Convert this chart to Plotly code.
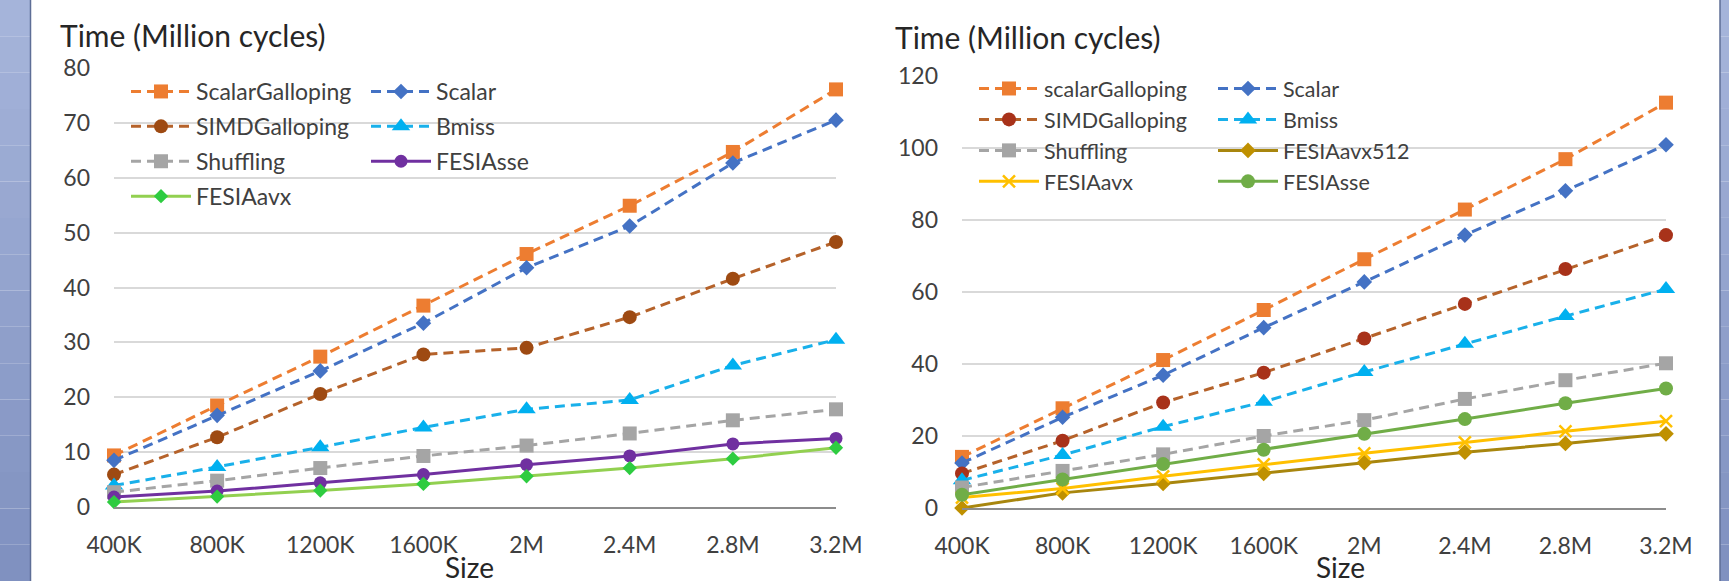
import plotly.graph_objects as go

# ---------------- data ----------------
sizes = ["400K", "800K", "1200K", "1600K", "2M", "2.4M", "2.8M", "3.2M"]

# left chart
scalar_galloping_L = [9.4, 18.5, 27.4, 36.7, 46.1, 54.9, 64.7, 76.1]
scalar_L = [8.5, 16.7, 24.8, 33.5, 43.6, 51.2, 62.7, 70.5]
simd_galloping_L = [5.9, 12.7, 20.6, 27.8, 29.0, 34.6, 41.6, 48.3]
bmiss_L = [3.9, 7.3, 10.9, 14.5, 17.8, 19.5, 25.8, 30.5]
shuffling_L = [2.7, 4.8, 7.1, 9.3, 11.2, 13.4, 15.8, 17.8]
fesia_sse_L = [1.8, 2.9, 4.4, 5.9, 7.7, 9.3, 11.5, 12.5]
fesia_avx_L = [0.9, 1.9, 3.0, 4.2, 5.6, 7.1, 8.8, 10.8]

# right chart
scalar_galloping_R = [14.2, 27.7, 41.1, 55.0, 69.1, 82.9, 96.9, 112.6]
scalar_R = [12.5, 25.2, 36.9, 50.1, 62.8, 75.8, 88.1, 100.9]
simd_galloping_R = [9.6, 18.7, 29.3, 37.6, 47.1, 56.7, 66.4, 75.8]
bmiss_R = [7.7, 14.7, 22.6, 29.5, 37.8, 45.6, 53.3, 60.8]
shuffling_R = [5.7, 10.3, 14.9, 20.0, 24.4, 30.3, 35.5, 40.2]
fesia_avx512_R = [0.0, 4.2, 6.8, 9.6, 12.6, 15.5, 17.9, 20.6]
fesia_avx_R = [2.9, 5.4, 8.8, 12.1, 15.2, 18.2, 21.3, 24.1]
fesia_sse_R = [3.7, 7.9, 12.2, 16.2, 20.6, 24.7, 29.1, 33.2]

y_title = "Time (Million cycles)"
x_title = "Size"

# ---------------- layout helpers ----------------
W, H = 1729, 581
FONT = "Lato, Open Sans, sans-serif"
TXT = "#404040"
DASH = "10px,6px"


def fx(x):
    return x / W


def fy(y):
    return (H - y) / H


fig = go.Figure()


def add(name, y, color, dash, symbol, msize, xa, ya, legend, mcolor=None, lw=3, mline=0):
    mc = mcolor or color
    fig.add_trace(go.Scatter(
        x=sizes, y=y, name=name, mode="lines+markers",
        line=dict(color=color, width=lw, dash=dash),
        marker=dict(symbol=symbol, size=msize, color=mc,
                    line=dict(width=mline, color=mc)),
        xaxis=xa, yaxis=ya, legend=legend, legendgroup=name + xa,
        cliponaxis=False, hoverinfo="x+y+name"))


# left chart traces
add("ScalarGalloping", scalar_galloping_L, "#ED7D31", DASH, "square", 14, "x", "y", "legend")
add("Scalar", scalar_L, "#4472C4", DASH, "diamond", 12, "x", "y", "legend2")
add("SIMDGalloping", simd_galloping_L, "#B5622A", DASH, "circle", 14, "x", "y", "legend", mcolor="#9E4A12")
add("Bmiss", bmiss_L, "#19B0EA", DASH, "triangle-up", 16, "x", "y", "legend2", mcolor="#00B0F0")
add("Shuffling", shuffling_L, "#A5A5A5", DASH, "square", 14, "x", "y", "legend")
add("FESIAsse", fesia_sse_L, "#7030A0", "solid", "circle", 13, "x", "y", "legend2")
add("FESIAavx", fesia_avx_L, "#92D050", "solid", "diamond", 11, "x", "y", "legend", mcolor="#2ECC40")

# right chart traces
add("scalarGalloping", scalar_galloping_R, "#ED7D31", DASH, "square", 14, "x2", "y2", "legend3")
add("Scalar", scalar_R, "#4472C4", DASH, "diamond", 12, "x2", "y2", "legend4")
add("SIMDGalloping", simd_galloping_R, "#B5622A", DASH, "circle", 14, "x2", "y2", "legend3", mcolor="#A8321A")
add("Bmiss", bmiss_R, "#19B0EA", DASH, "triangle-up", 16, "x2", "y2", "legend4", mcolor="#00B0F0")
add("Shuffling", shuffling_R, "#A5A5A5", DASH, "square", 14, "x2", "y2", "legend3")
add("FESIAavx512", fesia_avx512_R, "#A8860E", "solid", "diamond", 12, "x2", "y2", "legend4", mcolor="#BF9000")
add("FESIAavx", fesia_avx_R, "#FFC000", "solid", "x-thin-open", 12, "x2", "y2", "legend3", mline=2.5)
add("FESIAsse", fesia_sse_R, "#70AD47", "solid", "circle", 14, "x2", "y2", "legend4")

# ---------------- axes ----------------
xcommon = dict(type="category", range=[0, 7], showgrid=False, zeroline=False,
               showline=True, linecolor="#8C8C8C", linewidth=2, ticks="",
               tickfont=dict(family=FONT, size=23, color=TXT), automargin=False,
               ticklabelstandoff=16, fixedrange=True)
ycommon = dict(showgrid=True, gridcolor="#D9D9D9", gridwidth=1.5, zeroline=False,
               showline=False, ticks="", tickfont=dict(family=FONT, size=23, color=TXT),
               automargin=False, ticklabelstandoff=23, fixedrange=True)

fig.update_layout(
    xaxis=dict(domain=[fx(114), fx(836)], anchor="y", **xcommon),
    yaxis=dict(domain=[fy(507), fy(68)], anchor="x", range=[0, 80], dtick=10, **ycommon),
    xaxis2=dict(domain=[fx(962), fx(1666)], anchor="y2", **xcommon),
    yaxis2=dict(domain=[fy(508), fy(76)], anchor="x2", range=[0, 120], dtick=20, **ycommon),
)

legcommon = dict(xanchor="left", yanchor="top", bgcolor="rgba(0,0,0,0)",
                 font=dict(family=FONT, size=23, color=TXT), itemwidth=60,
                 traceorder="grouped", tracegroupgap=2, borderwidth=0)
leg_r = {**legcommon, "tracegroupgap": 0, "font": dict(family=FONT, size=21.5, color=TXT)}
fig.update_layout(
    legend=dict(x=fx(126), y=fy(70), **legcommon),
    legend2=dict(x=fx(366), y=fy(70), **legcommon),
    legend3=dict(x=fx(974), y=fy(68), **leg_r),
    legend4=dict(x=fx(1213), y=fy(68), **leg_r),
)

# ---------------- decorations ----------------
shapes = []
# white backgrounds behind legends (hide gridlines)
shapes.append(dict(type="rect", xref="paper", yref="paper", x0=fx(114), x1=fx(612),
                   y0=fy(216), y1=fy(73), fillcolor="white", line=dict(width=0), layer="between"))
shapes.append(dict(type="rect", xref="paper", yref="paper", x0=fx(962), x1=fx(1443),
                   y0=fy(200), y1=fy(71), fillcolor="white", line=dict(width=0), layer="between"))
# blue frame bands (vertical gradient built from strips)
top_c = (165, 180, 218)
bot_c = (128, 145, 192)
n = 16
for i in range(n):
    t = i / (n - 1)
    c = tuple(int(round(top_c[k] + (bot_c[k] - top_c[k]) * t)) for k in range(3))
    shapes.append(dict(type="rect", xref="paper", yref="paper",
                       x0=0, x1=fx(30), y0=1 - (i + 1) / n, y1=1 - i / n,
                       fillcolor="rgb(%d,%d,%d)" % c, line=dict(width=0), layer="below"))
    shapes.append(dict(type="rect", xref="paper", yref="paper",
                       x0=fx(1720), x1=1, y0=1 - (i + 1) / n, y1=1 - i / n,
                       fillcolor="rgb(%d,%d,%d)" % c, line=dict(width=0), layer="below"))
shapes.append(dict(type="line", xref="paper", yref="paper", x0=fx(30.5), x1=fx(30.5), y0=0, y1=1,
                   line=dict(color="#5E6E96", width=1.5), layer="below"))
shapes.append(dict(type="line", xref="paper", yref="paper", x0=fx(1720), x1=fx(1720), y0=0, y1=1,
                   line=dict(color="#5E6E96", width=1.5), layer="below"))

annotations = [
    dict(text=y_title, xref="paper", yref="paper", x=fx(58), y=fy(35), xanchor="left",
         yanchor="middle", showarrow=False, font=dict(family=FONT, size=30, color="#262626")),
    dict(text=y_title, xref="paper", yref="paper", x=fx(893), y=fy(37), xanchor="left",
         yanchor="middle", showarrow=False, font=dict(family=FONT, size=30, color="#262626")),
    dict(text=x_title, xref="paper", yref="paper", x=fx(469), y=fy(567), xanchor="center",
         yanchor="middle", showarrow=False, font=dict(family=FONT, size=28, color="#262626")),
    dict(text=x_title, xref="paper", yref="paper", x=fx(1340), y=fy(567), xanchor="center",
         yanchor="middle", showarrow=False, font=dict(family=FONT, size=28, color="#262626")),
]

fig.update_layout(
    template="none",
    width=W, height=H, autosize=False, margin=dict(l=0, r=0, t=0, b=0, pad=0),
    paper_bgcolor="white", plot_bgcolor="white",
    shapes=shapes, annotations=annotations,
    font=dict(family=FONT, color=TXT),
    hovermode="closest",
)

fig.write_html(
    "out.html",
    config={"displayModeBar": False},
    post_script="document.body.style.margin='0';document.body.style.overflow='hidden';",
)
